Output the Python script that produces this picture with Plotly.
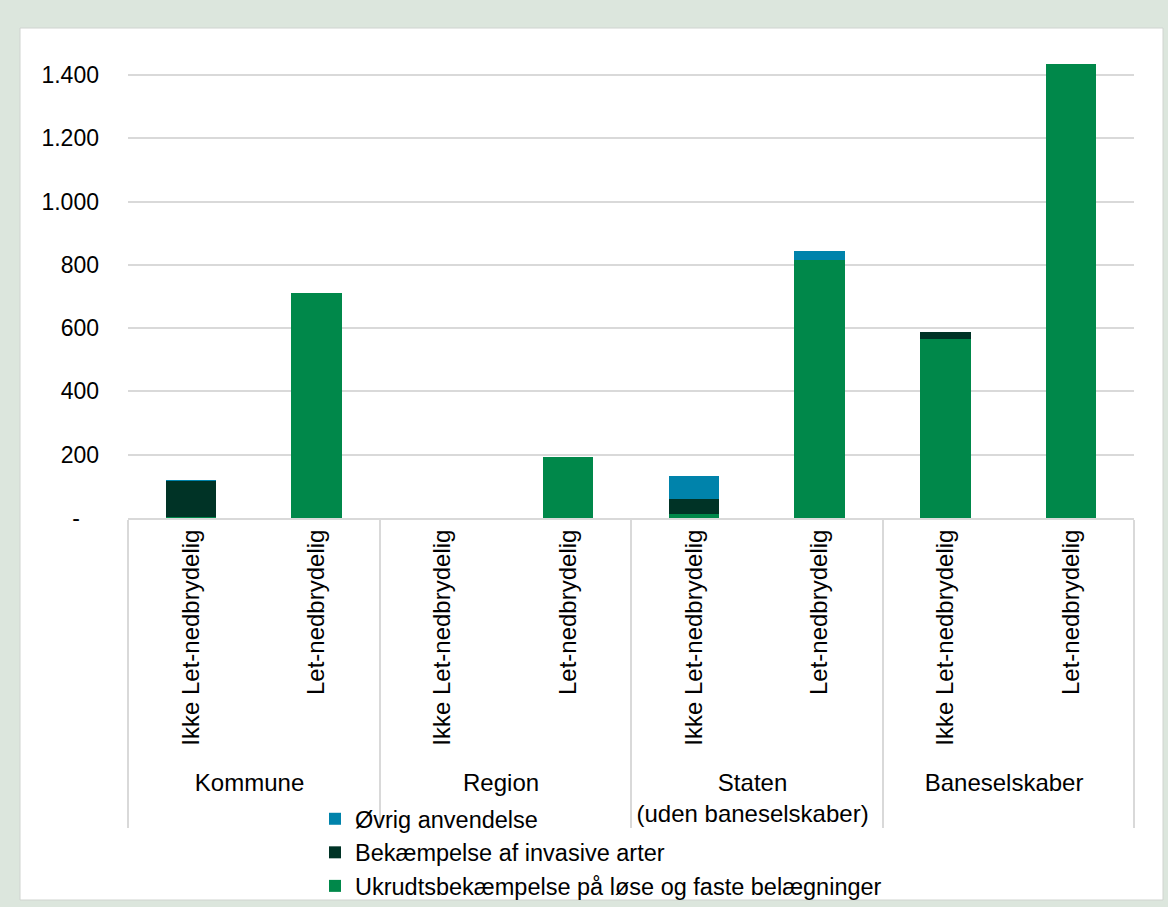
import plotly.graph_objects as go

groups = ["Kommune", "Kommune", "Region", "Region",
          "Staten<br>(uden baneselskaber)", "Staten<br>(uden baneselskaber)",
          "Baneselskaber", "Baneselskaber"]
subs = ["Ikke Let-nedbrydelig", "Let-nedbrydelig"] * 4

ukrudt = [2, 710, 0, 193, 13, 814, 566, 1436]
invasive = [116, 0, 0, 0, 47, 0, 22, 0]
oevrig = [2, 0, 0, 0, 74, 31, 0, 0]

series_names = ["Ukrudtsbekæmpelse på løse og faste belægninger",
                "Bekæmpelse af invasive arter",
                "Øvrig anvendelse"]
series_colors = ["#00884a", "#003326", "#0083ab"]

tick_vals = [0, 200, 400, 600, 800, 1000, 1200, 1400]
tick_text = ["-\u00a0\u00a0\u00a0", "200", "400", "600", "800", "1.000", "1.200", "1.400"]

FONT = "Liberation Sans, Arial, sans-serif"
W, H = 1168, 907
L, R, T, B = 128, 34, 37, 389
pw, ph = W - L - R, H - T - B

def px2x(p):
    return (p - L) / pw

def px2y(p):
    return (H - B - p) / ph

fig = go.Figure()
for vals, name, col in zip([ukrudt, invasive, oevrig], series_names, series_colors):
    fig.add_trace(go.Bar(x=[groups, subs], y=vals, name=name,
                         marker=dict(color=col, line=dict(width=0))))

fig.add_shape(type="rect", xref="paper", yref="paper",
              x0=px2x(20), x1=px2x(1163), y0=px2y(900), y1=px2y(28),
              fillcolor="white", line=dict(color="#d0d4d0", width=1), layer="below")

fig.update_layout(
    width=W, height=H,
    margin=dict(l=L, r=R, t=T, b=B, autoexpand=False),
    paper_bgcolor="#dce6dd",
    plot_bgcolor="rgba(0,0,0,0)",
    barmode="stack",
    bargap=0.6,
    font=dict(family=FONT, size=24, color="#000000"),
    showlegend=True,
    legend=dict(
        xref="container", yref="container",
        x=315 / W, y=1 - 797 / H, xanchor="left", yanchor="top",
        traceorder="reversed", bgcolor="rgba(0,0,0,0)",
        font=dict(family=FONT, size=23.5, color="#000000"),
        itemwidth=30, tracegroupgap=0,
    ),
    xaxis=dict(
        type="multicategory",
        tickangle=-90,
        showgrid=False,
        showline=True, linecolor="#d9d9d9", linewidth=2,
        showdividers=True, dividercolor="#d9d9d9", dividerwidth=2,
        ticks="", automargin=False,
        tickfont=dict(family=FONT, size=24, color="#000000"),
    ),
    yaxis=dict(
        range=[0, 1520],
        tickvals=tick_vals, ticktext=tick_text,
        showgrid=True, gridcolor="#d9d9d9", gridwidth=2,
        zeroline=False, showline=False,
        ticks="", ticklabelstandoff=28, automargin=False,
        tickfont=dict(family=FONT, size=23, color="#000000"),
    ),
)

fig.write_html("out.html")
